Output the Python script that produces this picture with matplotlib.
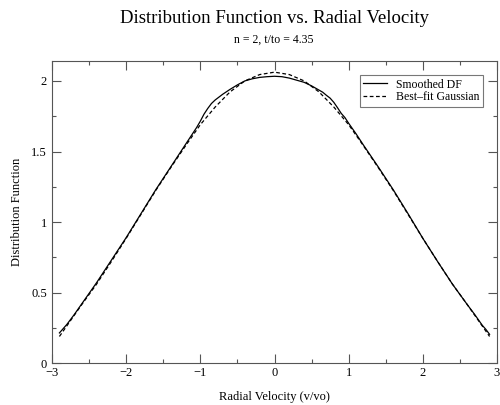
import numpy as np
import matplotlib
matplotlib.use("Agg")
import matplotlib.pyplot as plt
from matplotlib.ticker import MultipleLocator, FuncFormatter

# 读图得到的数据点
v_smooth = [-2.9, -2.85, -2.8, -2.7, -2.6, -2.5, -2.4, -2.2, -2.0, -1.8, -1.6, -1.4,
            -1.2, -1.1, -1.05, -1.0, -0.95, -0.9, -0.85, -0.8, -0.75, -0.7, -0.6, -0.5,
            -0.4, -0.3, -0.2, -0.1, 0.0, 0.1, 0.2, 0.3, 0.4, 0.5, 0.6, 0.65, 0.7, 0.75,
            0.8, 0.85, 0.9, 0.95, 1.0, 1.1, 1.2, 1.4, 1.6, 1.8, 2.0, 2.2, 2.4, 2.6,
            2.7, 2.8, 2.85, 2.9]
df_smooth = [0.215, 0.245, 0.275, 0.345, 0.42, 0.495, 0.57, 0.73, 0.89, 1.06, 1.23, 1.39,
             1.55, 1.63, 1.67, 1.715, 1.765, 1.805, 1.84, 1.865, 1.885, 1.905, 1.94, 1.972,
             2.00, 2.015, 2.025, 2.03, 2.033, 2.03, 2.02, 2.005, 1.99, 1.965, 1.935, 1.92,
             1.898, 1.878, 1.848, 1.81, 1.77, 1.74, 1.70, 1.625, 1.545, 1.39, 1.23, 1.06,
             0.885, 0.72, 0.56, 0.415, 0.345, 0.27, 0.24, 0.205]

v_fit = [-2.9, -2.8, -2.6, -2.4, -2.2, -2.0, -1.8, -1.6, -1.4, -1.2, -1.0, -0.8,
         -0.6, -0.4, -0.2, 0.0, 0.2, 0.4, 0.6, 0.8, 1.0, 1.2, 1.4, 1.6,
         1.8, 2.0, 2.2, 2.4, 2.6, 2.8, 2.9]
df_fit = [0.19, 0.265, 0.415, 0.56, 0.72, 0.885, 1.055, 1.225, 1.385, 1.54, 1.69, 1.815,
          1.922, 2.0, 2.045, 2.062, 2.045, 2.0, 1.922, 1.815, 1.69, 1.54, 1.385, 1.225,
          1.055, 0.885, 0.72, 0.56, 0.415, 0.265, 0.19]

plt.rcParams["font.family"] = ["Liberation Serif", "DejaVu Serif"]
plt.rcParams["axes.unicode_minus"] = True

fig = plt.figure(figsize=(5, 4.05), dpi=100)
ax = fig.add_axes([0.104, 0.103, 0.89, 0.746])

ax.plot(v_smooth, df_smooth, color="black", linewidth=0.9, label="Smoothed DF")
ax.plot(v_fit, df_fit, color="black", linewidth=0.9, linestyle=(0, (3, 2)), label="Best\u2013fit Gaussian")

ax.set_xlim(-3, 3)
ax.set_ylim(0, 2.14)
ax.xaxis.set_major_locator(MultipleLocator(1))
ax.xaxis.set_minor_locator(MultipleLocator(0.5))
ax.yaxis.set_major_locator(MultipleLocator(0.5))
ax.yaxis.set_minor_locator(MultipleLocator(0.25))
ax.yaxis.set_major_formatter(FuncFormatter(lambda v, p: f"{v:g}"))
ax.xaxis.set_major_formatter(FuncFormatter(lambda v, p: f"{v:g}".replace("-", "\u2212")))

for s in ax.spines.values():
    s.set_color("#555555")
    s.set_linewidth(0.8)
ax.tick_params(which="both", direction="in", top=True, right=True, color="#555555", labelsize=9)
ax.tick_params(which="major", length=6.5, width=0.8)
ax.tick_params(which="minor", length=3, width=0.8)
ax.tick_params(axis="x", pad=3)

ax.set_xlabel("Radial Velocity (v/vo)", fontsize=9, labelpad=8)
ax.set_ylabel("Distribution Function", fontsize=9, labelpad=6)

fig.text(0.548, 0.955, "Distribution Function vs. Radial Velocity", ha="center", va="center", fontsize=13.5)
fig.text(0.548, 0.903, "n = 2, t/to = 4.35", ha="center", va="center", fontsize=8.5)

leg = ax.legend(loc="upper right", bbox_to_anchor=(0.969, 0.954), borderaxespad=0,
                fontsize=8.5, frameon=True, fancybox=False, handlelength=2.0, borderpad=0.3,
                labelspacing=0.05, handletextpad=0.8)
leg.get_frame().set_edgecolor("#555555")
leg.get_frame().set_linewidth(0.8)

fig.savefig("out.png", dpi=100)
